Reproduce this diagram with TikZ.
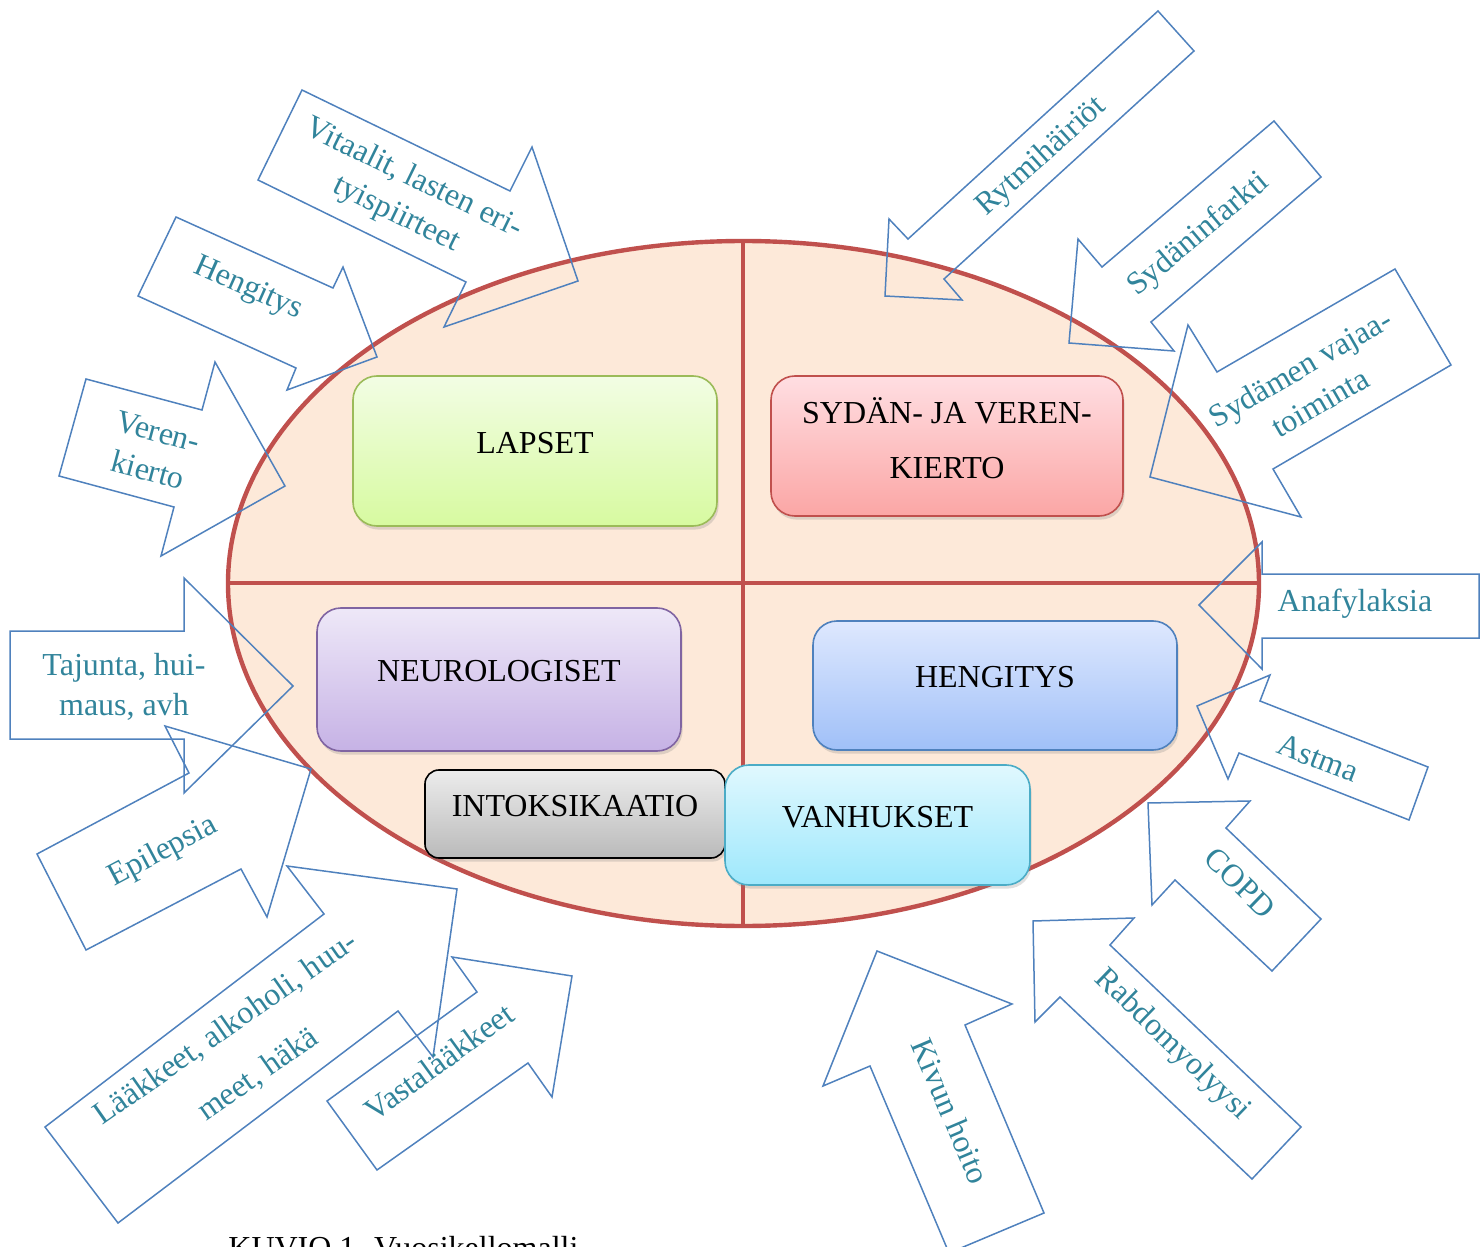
\documentclass[tikz,border=0pt]{standalone}
\usepackage{fontspec}
\setmainfont{Liberation Serif}
\usetikzlibrary{shadows}
\definecolor{ringred}{HTML}{C0504D}
\definecolor{ringfill}{HTML}{FDE9D9}
\definecolor{arrowblue}{HTML}{4F81BD}
\definecolor{labelteal}{HTML}{31849B}
\begin{document}
\begin{tikzpicture}[x=.5pt,y=-.5pt,
    ring/.style={draw=ringred,line width=2.2pt},
    arrowline/.style={draw=arrowblue,line width=.75pt,line join=miter},
    arrowtext/.style={text=labelteal,font=\fontsize{16}{20}\selectfont,align=center,inner sep=0pt},
    quarter/.style={rounded corners=12pt,line width=.8pt,inner sep=0pt,
      drop shadow={shadow xshift=.8pt,shadow yshift=-1.8pt,opacity=.25}},
    quartertext/.style={font=\fontsize{16}{27.5}\selectfont,align=center,yshift=4pt}]
    \useasboundingbox (0,0) rectangle (1480,1247);
    \draw[ring,fill=ringfill] (743.5,583.5) ellipse [x radius=515.5,y radius=342.5];
    \draw[ring] (228,583) -- (1259,583);
    \draw[ring] (743,241) -- (743,926);
    \node[quarter,draw={rgb,255:red,155;green,187;blue,89},
      top color={rgb,255:red,242;green,253;blue,228},bottom color={rgb,255:red,215;green,250;blue,160},
      minimum width=182pt,minimum height=75pt,
      label={[quartertext]center:LAPSET}] (lapset) at (535,451) {};
    \node[quarter,draw=ringred,
      top color={rgb,255:red,255;green,222;blue,226},bottom color={rgb,255:red,251;green,166;blue,165},
      minimum width=176pt,minimum height=70pt,
      label={[quartertext]center:SYDÄN- JA VEREN-\\KIERTO}] (sydan) at (947,446) {};
    \node[quarter,draw={rgb,255:red,128;green,100;blue,162},
      top color={rgb,255:red,238;green,232;blue,248},bottom color={rgb,255:red,198;green,178;blue,229},
      minimum width=182pt,minimum height=71.5pt,
      label={[quartertext]center:NEUROLOGISET}] (neuro) at (499,679.5) {};
    \node[quarter,draw=arrowblue,
      top color={rgb,255:red,222;green,232;blue,254},bottom color={rgb,255:red,160;green,192;blue,248},
      minimum width=182pt,minimum height=64.5pt,
      label={[quartertext]center:HENGITYS}] (hengitys) at (995,685.5) {};
    \node[quarter,rounded corners=7pt,draw=black,
      top color={rgb,255:red,236;green,236;blue,236},bottom color={rgb,255:red,186;green,186;blue,186},
      minimum width=150pt,minimum height=44pt,
      label={[quartertext]center:INTOKSIKAATIO}] (intoksikaatio) at (575,814) {};
    \node[quarter,draw={rgb,255:red,75;green,172;blue,198},
      top color={rgb,255:red,224;green,248;blue,254},bottom color={rgb,255:red,158;green,232;blue,252},
      minimum width=152.5pt,minimum height=60pt,
      label={[quartertext]center:VANHUKSET}] (vanhukset) at (877.5,825) {};
    \draw[arrowline] (302,90) -- (510,191) -- (532,147) -- (578,281) -- (444,327) -- (466,282) -- (258,180) -- cycle;
    \draw[arrowline] (176,217) -- (333,288) -- (343,267) -- (377,357) -- (287,390) -- (296,368) -- (138,296) -- cycle;
    \draw[arrowline] (86,379) -- (202,410) -- (215,362) -- (285,486) -- (161,556) -- (174,507) -- (59,476) -- cycle;
    \draw[arrowline] (10,631) -- (184,631) -- (184,578) -- (293,686) -- (184,793) -- (184,739) -- (10,739) -- cycle;
    \draw[arrowline] (37,854) -- (189,773) -- (165,726) -- (311,769) -- (267,917) -- (241,869) -- (86,950) -- cycle;
    \draw[arrowline] (45,1127) -- (324,914) -- (287,866) -- (457,889) -- (433,1057) -- (398,1011) -- (118,1223) -- cycle;
    \draw[arrowline] (327,1101) -- (477,992) -- (452,957) -- (572,976) -- (552,1097) -- (528,1063) -- (377,1170) -- cycle;
    \draw[arrowline] (1158,11) -- (1194,51) -- (944,279) -- (962,300) -- (885,296) -- (889,219) -- (908,239) -- cycle;
    \draw[arrowline] (1274,121) -- (1321,177) -- (1151,322) -- (1174,351) -- (1069,343) -- (1078,239) -- (1102,267) -- cycle;
    \draw[arrowline] (1395,269) -- (1451,365) -- (1273,469) -- (1301,517) -- (1150,477) -- (1188,325) -- (1217,372) -- cycle;
    \draw[arrowline] (1479,574) -- (1262,574) -- (1262,542) -- (1199,605) -- (1262,669) -- (1262,638) -- (1479,638) -- cycle;
    \draw[arrowline] (1428,767) -- (1260,701) -- (1270,675) -- (1197,706) -- (1228,779) -- (1239,753) -- (1409,820) -- cycle;
    \draw[arrowline] (1321,919) -- (1226,828) -- (1250,801) -- (1148,803) -- (1152,905) -- (1175,880) -- (1272,971) -- cycle;
    \draw[arrowline] (1301,1127) -- (1110,945) -- (1134,918) -- (1033,921) -- (1035,1022) -- (1060,997) -- (1252,1179) -- cycle;
    \draw[arrowline] (1044,1213) -- (965,1025) -- (1012,1004) -- (877,951) -- (823,1086) -- (870,1066) -- (949,1253) -- cycle;
    \node[arrowtext,rotate=-26] (vitaalit) at (405,197) {Vitaalit, lasten eri-\\tyispiirteet};
    \node[arrowtext,rotate=-24] (hengitysnuoli) at (248,289) {Hengitys};
    \node[arrowtext,rotate=-15] (verenkierto) at (153,451) {Veren-\\kierto};
    \node[arrowtext] (tajunta) at (124,687) {Tajunta, hui-\\maus, avh};
    \node[arrowtext,rotate=28] (epilepsia) at (163,852) {Epilepsia};
    \node[arrowtext,rotate=35] (laakkeet) at (242,1052) {Lääkkeet, alkoholi, huu-\\[8pt]meet, häkä};
    \node[arrowtext,rotate=36] (vastalaakkeet) at (439,1062) {Vastalääkkeet};
    \node[arrowtext,rotate=42] (rytmi) at (1042,157) {Rytmihäiriöt};
    \node[arrowtext,rotate=40] (infarkti) at (1199,235) {Sydäninfarkti};
    \node[arrowtext,rotate=30] (vajaatoiminta) at (1310,385) {Sydämen vajaa-\\toiminta};
    \node[arrowtext] (anafylaksia) at (1355,604) {Anafylaksia};
    \node[arrowtext,rotate=-21] (astma) at (1318,758) {Astma};
    \node[arrowtext,rotate=-44] (copd) at (1240,883) {COPD};
    \node[arrowtext,rotate=-44] (rabdo) at (1172,1045) {Rabdomyolyysi};
    \node[arrowtext,rotate=-67] (kipu) at (951,1111) {Kivun hoito};
    \node[font=\fontsize{16}{20}\selectfont,anchor=base west,inner sep=0pt] (kuvio) at (228,1258) {KUVIO 1. Vuosikellomalli};
\end{tikzpicture}
\end{document}
